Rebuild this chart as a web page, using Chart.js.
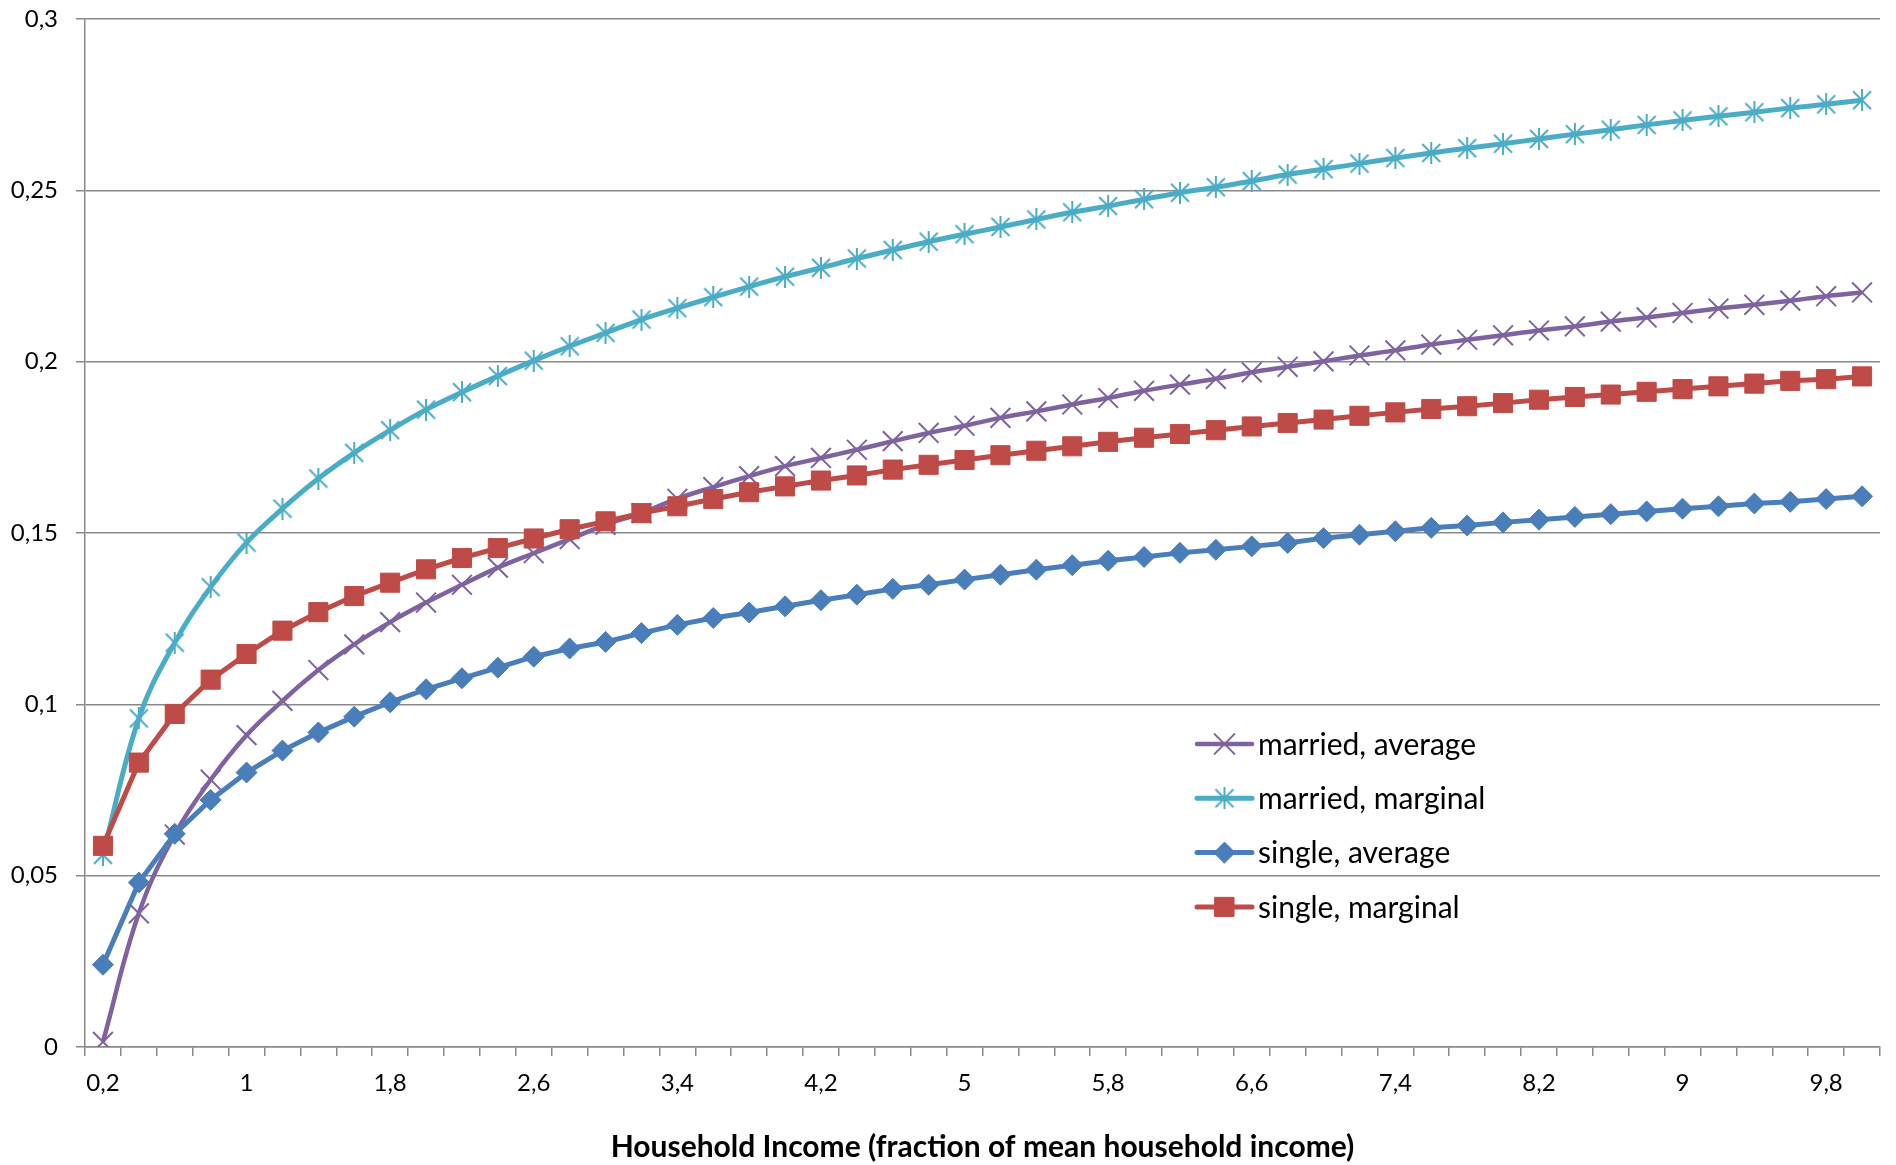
<!DOCTYPE html>
<html>
<head>
<meta charset="utf-8">
<title>Household income and tax rates</title>
<script src="https://cdn.jsdelivr.net/npm/chart.js@4.4.1/dist/chart.umd.min.js"></script>
<style>
  html, body { margin: 0; padding: 0; background: #ffffff; }
  canvas { display: block; }
</style>
</head>
<body>
<canvas id="chart" width="1896" height="1165"></canvas>
<script>
// Household income as a fraction of mean household income
const incomeCategories = [
  0.2, 0.4, 0.6, 0.8, 1.0, 1.2, 1.4, 1.6, 1.8, 2.0,
  2.2, 2.4, 2.6, 2.8, 3.0, 3.2, 3.4, 3.6, 3.8, 4.0,
  4.2, 4.4, 4.6, 4.8, 5.0, 5.2, 5.4, 5.6, 5.8, 6.0,
  6.2, 6.4, 6.6, 6.8, 7.0, 7.2, 7.4, 7.6, 7.8, 8.0,
  8.2, 8.4, 8.6, 8.8, 9.0, 9.2, 9.4, 9.6, 9.8, 10.0
];

const marriedAverage = [
  0.0015, 0.039, 0.062, 0.078, 0.091, 0.101, 0.110, 0.1175, 0.124, 0.1297,
  0.1349, 0.1399, 0.1441, 0.1482, 0.1524, 0.1558, 0.1600, 0.1634, 0.1666, 0.1695,
  0.1719, 0.1743, 0.1768, 0.1792, 0.1813, 0.1836, 0.1855, 0.1875, 0.1894, 0.1915,
  0.1933, 0.1950, 0.1969, 0.1985, 0.2001, 0.2018, 0.2033, 0.2050, 0.2064, 0.2077,
  0.2091, 0.2103, 0.2117, 0.2129, 0.2142, 0.2155, 0.2166, 0.2178, 0.2191, 0.2202
];

const marriedMarginal = [
  0.0561, 0.0959, 0.1180, 0.1342, 0.1472, 0.1571, 0.1659, 0.1734, 0.1800, 0.1860,
  0.1911, 0.1958, 0.2003, 0.2045, 0.2084, 0.2123, 0.2156, 0.2188, 0.2219, 0.2248,
  0.2274, 0.2301, 0.2326, 0.2350, 0.2372, 0.2393, 0.2415, 0.2436, 0.2454, 0.2474,
  0.2493, 0.2509, 0.2527, 0.2546, 0.2562, 0.2578, 0.2594, 0.2609, 0.2623, 0.2636,
  0.2650, 0.2664, 0.2677, 0.2691, 0.2704, 0.2716, 0.2728, 0.2740, 0.2751, 0.2763
];

const singleAverage = [
  0.0240, 0.0480, 0.0622, 0.0721, 0.0801, 0.0865, 0.0918, 0.0964, 0.1006, 0.1044,
  0.1076, 0.1107, 0.1139, 0.1163, 0.1182, 0.1208, 0.1232, 0.1252, 0.1268, 0.1286,
  0.1304, 0.1320, 0.1337, 0.1349, 0.1364, 0.1378, 0.1393, 0.1406, 0.1419, 0.1430,
  0.1442, 0.1451, 0.1461, 0.1471, 0.1485, 0.1495, 0.1505, 0.1515, 0.1522, 0.1531,
  0.1539, 0.1547, 0.1555, 0.1563, 0.1571, 0.1578, 0.1586, 0.1591, 0.1599, 0.1607
];

const singleMarginal = [
  0.0587, 0.0830, 0.0972, 0.1072, 0.1147, 0.1215, 0.1269, 0.1316, 0.1355, 0.1394,
  0.1427, 0.1456, 0.1484, 0.1511, 0.1534, 0.1558, 0.1578, 0.1599, 0.1619, 0.1636,
  0.1653, 0.1668, 0.1685, 0.1699, 0.1713, 0.1727, 0.1740, 0.1753, 0.1766, 0.1778,
  0.1789, 0.1800, 0.1811, 0.1821, 0.1831, 0.1842, 0.1852, 0.1862, 0.1870, 0.1879,
  0.1889, 0.1897, 0.1904, 0.1912, 0.1920, 0.1928, 0.1936, 0.1944, 0.1949, 0.1957
];

const seriesNames = ['married, average', 'married, marginal', 'single, average', 'single, marginal'];

// Category labels printed under the axis (every fourth category)
const xTickLabels = ['0,2', '1', '1,8', '2,6', '3,4', '4,2', '5', '5,8', '6,6', '7,4', '8,2', '9', '9,8'];

const xAxisTitle = 'Household Income (fraction of mean household income)';

const COLORS = {
  marriedAverage: '#7F63A1',
  marriedMarginal: '#4BACC6',
  singleAverage: '#4A7EBB',
  singleMarginal: '#BE4B48'
};
const GRID = '#898989';
const FONT = 'Lato, "Open Sans", "Liberation Sans", sans-serif';

const decimalComma = v => String(Math.round(v * 1000) / 1000).replace('.', ',');

// Asterisk marker: a diagonal cross with a vertical stroke
function asteriskMarker(color, size, width) {
  const c = document.createElement('canvas');
  c.width = size; c.height = size;
  const g = c.getContext('2d');
  g.strokeStyle = color;
  g.lineWidth = width;
  const p = 2, m = size / 2;
  g.beginPath();
  g.moveTo(p, p); g.lineTo(size - p, size - p);
  g.moveTo(size - p, p); g.lineTo(p, size - p);
  g.moveTo(m, 0); g.lineTo(m, size);
  g.stroke();
  return c;
}

// Legend drawn inside the plot area, lower right
const insideLegend = {
  id: 'insideLegend',
  afterDraw(chart) {
    const { ctx, chartArea } = chart;
    const x0 = chartArea.left + 1112;
    const x1 = x0 + 55;
    const textX = x1 + 6;
    const firstY = chartArea.top + 725;
    const step = 54.3;
    chart.data.datasets.forEach((ds, i) => {
      const y = firstY + i * step;
      ctx.save();
      ctx.strokeStyle = ds.borderColor;
      ctx.lineWidth = ds.borderWidth;
      ctx.lineCap = 'round';
      ctx.beginPath();
      ctx.moveTo(x0, y);
      ctx.lineTo(x1, y);
      ctx.stroke();
      ctx.fillStyle = ds.pointBackgroundColor;
      ctx.strokeStyle = ds.pointBorderColor;
      ctx.lineWidth = ds.pointBorderWidth;
      Chart.helpers.drawPoint(ctx, {
        pointStyle: ds.pointStyle,
        radius: ds.pointRadius,
        borderWidth: ds.pointBorderWidth,
        rotation: 0
      }, (x0 + x1) / 2, y);
      ctx.fillStyle = '#000000';
      ctx.font = '30px ' + FONT;
      ctx.textBaseline = 'middle';
      ctx.textAlign = 'left';
      ctx.fillText(seriesNames[i], textX, y + 1);
      ctx.restore();
    });
  }
};

function draw() {
  const star = asteriskMarker(COLORS.marriedMarginal, 22, 2);
  new Chart(document.getElementById('chart'), {
    type: 'line',
    data: {
      labels: incomeCategories,
      datasets: [
        {
          label: seriesNames[0],
          data: marriedAverage,
          borderColor: COLORS.marriedAverage,
          borderWidth: 4.5,
          tension: 0.4,
          pointStyle: 'crossRot',
          pointRadius: 14,
          pointBorderWidth: 2,
          pointBorderColor: COLORS.marriedAverage,
          pointBackgroundColor: COLORS.marriedAverage,
          order: 4
        },
        {
          label: seriesNames[1],
          data: marriedMarginal,
          borderColor: COLORS.marriedMarginal,
          borderWidth: 5,
          tension: 0.4,
          pointStyle: star,
          pointRadius: 11,
          pointBorderWidth: 2,
          pointBorderColor: COLORS.marriedMarginal,
          pointBackgroundColor: COLORS.marriedMarginal,
          order: 3
        },
        {
          label: seriesNames[2],
          data: singleAverage,
          borderColor: COLORS.singleAverage,
          borderWidth: 5,
          tension: 0,
          pointStyle: 'rectRot',
          pointRadius: 10.5,
          pointBorderWidth: 1,
          pointBorderColor: COLORS.singleAverage,
          pointBackgroundColor: COLORS.singleAverage,
          order: 2
        },
        {
          label: seriesNames[3],
          data: singleMarginal,
          borderColor: COLORS.singleMarginal,
          borderWidth: 5,
          tension: 0,
          pointStyle: 'rect',
          pointRadius: 13.5,
          pointBorderWidth: 1,
          pointBorderColor: COLORS.singleMarginal,
          pointBackgroundColor: COLORS.singleMarginal,
          order: 1
        }
      ]
    },
    options: {
      responsive: false,
      animation: false,
      events: [],
      layout: { padding: { top: 19, right: 6, bottom: 0, left: 0 } },
      plugins: {
        legend: { display: false },
        tooltip: { enabled: false },
        title: { display: false }
      },
      scales: {
        x: {
          type: 'category',
          offset: true,
          grid: {
            offset: true,
            drawOnChartArea: false,
            drawTicks: true,
            tickLength: 9,
            color: GRID,
            lineWidth: 1.5
          },
          border: { display: true, color: GRID, width: 1.5 },
          ticks: {
            autoSkip: false,
            maxRotation: 0,
            padding: 13,
            color: '#000000',
            font: { family: FONT, size: 24 },
            callback: (v, i) => {
              const s = decimalComma(incomeCategories[i]);
              return xTickLabels.includes(s) ? s : '';
            }
          },
          title: {
            display: true,
            text: xAxisTitle,
            color: '#000000',
            font: { family: FONT, size: 30, weight: 'bold' },
            padding: { top: 0, bottom: 0 }
          },
          afterFit: s => {
            s.height = 118;
            s.paddingLeft = 0;
            s.paddingRight = 0;
          }
        },
        y: {
          min: 0,
          max: 0.3,
          grid: {
            color: GRID,
            lineWidth: 1.5,
            drawTicks: true,
            tickLength: 9
          },
          border: { display: true, color: GRID, width: 1.5 },
          ticks: {
            stepSize: 0.05,
            padding: 18,
            color: '#000000',
            font: { family: FONT, size: 24 },
            callback: v => decimalComma(v)
          },
          afterFit: s => {
            s.width = 85;
            s.paddingTop = 0;
            s.paddingBottom = 0;
          }
        }
      }
    },
    plugins: [insideLegend]
  });
}

if (document.fonts && document.fonts.load) {
  Promise.all([
    document.fonts.load('24px Lato'),
    document.fonts.load('bold 30px Lato')
  ]).then(draw, draw);
} else {
  draw();
}
</script>
</body>
</html>
